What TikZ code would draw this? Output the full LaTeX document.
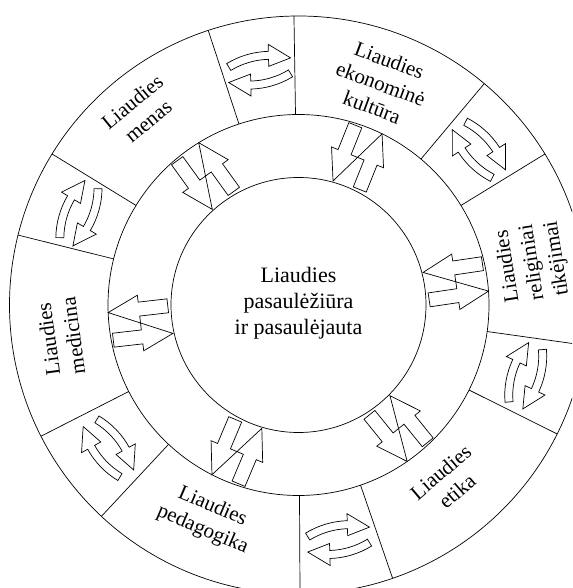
\documentclass[tikz,border=0pt]{standalone}
\usepackage{fontspec}
\setmainfont{Liberation Serif}
\begin{document}
\begin{tikzpicture}[x=1pt,y=1pt, line width=0.7pt,
  lbl/.style={align=center, font=\fontsize{21}{25}\selectfont, inner sep=0pt},
  blk/.style={draw=black, fill=white, line join=miter},
  pair/.pic={
    \draw[blk] (7,130) -- (7,159) -- (0,159) -- (14,190) -- (28,159) -- (21,159) -- (21,130) -- cycle;
    \draw[blk] (-21,188) -- (-21,159) -- (-28,159) -- (-14,128) -- (0,159) -- (-7,159) -- (-7,188) -- cycle;
  },
  cyc/.pic={
    \foreach \rr in {0,180}{
      \begin{scope}[rotate=\rr, shift={(0,-66)}]
        \draw[blk] (112:84) arc[start angle=112,end angle=82,radius=84] -- (82:91) -- (66:80) -- (82:69) -- (82:76) arc[start angle=82,end angle=112,radius=76] -- cycle;
      \end{scope}}
  }
]
\useasboundingbox (-298.5,-283) rectangle (273.5,305);
\fill[white] (-298.5,-283) rectangle (273.5,305);
\clip (-298.5,-283) rectangle (273.5,305);
% rings
\draw (0,0) circle[radius=289];
\draw (0,0) circle[radius=190.5];
\draw (0,0) circle[radius=127.5];
% dividers of the outer ring
\foreach \a in {31.5,50,90.9,108.2,148.5,166,207,227,270.3,289,333.5,352}
  \draw (\a:190.5) -- (\a:289);
% block arrow pairs in the middle ring
\foreach \a in {8.4,68.2,125.8,186.5,247.2,309}
  \pic[rotate=\a-90] at (0,0) {pair};
% cycle arrows in the outer ring
\foreach \a in {99.4,157.3,217,279.7,342.7,40.7}
  \pic[rotate=\a-90] at (\a:238) {cyc};
% labels
\node[lbl, font=\fontsize{22}{26}\selectfont] (c) at (0,2) {Liaudies\\pasaulėžiūra\\ir pasaulėjauta};
\node[lbl, rotate=-20.4] (ek) at (69.6:236) {Liaudies\\ekonominė\\kultūra};
\node[lbl, rotate=39.3] (me) at (129.3:250) {Liaudies\\menas};
\node[lbl, rotate=97.8] (md) at (187.8:240) {Liaudies\\medicina};
\node[lbl, rotate=-23.1] (pe) at (246.9:232) {Liaudies\\pedagogika};
\node[lbl, rotate=40.4] (et) at (310.4:232) {Liaudies\\etika};
\node[lbl, rotate=99] (re) at (10.3:238) {Liaudies\\religiniai\\tikėjimai};
\end{tikzpicture}
\end{document}
